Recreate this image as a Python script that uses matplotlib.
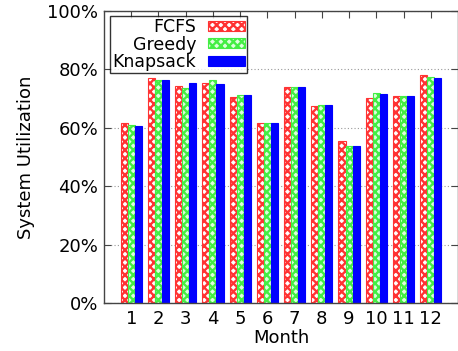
import numpy as np
import matplotlib.pyplot as plt
from matplotlib.ticker import FuncFormatter

meses = list(range(1, 13))
fcfs = [61.5, 77.0, 74.3, 75.2, 70.5, 61.5, 74.0, 67.4, 55.5, 70.1, 71.0, 77.9]
greedy = [60.8, 76.5, 73.5, 76.4, 71.1, 61.5, 74.0, 67.8, 53.8, 71.9, 70.9, 77.4]
knapsack = [60.6, 76.5, 75.2, 74.9, 71.3, 61.5, 73.8, 67.8, 53.7, 71.6, 70.8, 77.1]

plt.rcParams['hatch.linewidth'] = 1.7

fig = plt.figure(figsize=(4.58, 3.51), dpi=100)
ax = fig.add_axes([0.227, 0.137, 0.773, 0.832])

x = np.array(meses)
w = 0.26

ax.bar(x - w, fcfs, w, facecolor='white', edgecolor='#ff3333', hatch='xxxx',
       linewidth=0.8, label='FCFS', zorder=2)
ax.bar(x, greedy, w, facecolor='#ddffdd', edgecolor='#44ee44', hatch='xxxx',
       linewidth=0.8, label='Greedy', zorder=2)
ax.bar(x + w, knapsack, w, facecolor='#0000ff', edgecolor='#0000ff',
       linewidth=0.8, label='Knapsack', zorder=2)

ax.set_xlim(0, 13)
ax.set_ylim(0, 100)
ax.set_xticks(meses)
ax.set_yticks([0, 20, 40, 60, 80, 100])
ax.yaxis.set_major_formatter(FuncFormatter(lambda v, p: '{0:.0f}%'.format(v)))
ax.tick_params(direction='in', top=True, right=True, labelsize=13,
               length=5, color='#444444', pad=4)
ax.tick_params(axis='x', pad=5)
ax.grid(axis='y', linestyle=(0, (1, 2)), color='#999999', linewidth=0.8, zorder=0)

for s in ['left', 'bottom', 'top', 'right']:
    ax.spines[s].set_color('#444444')
    ax.spines[s].set_linewidth(1.0)

ax.set_xlabel('Month', fontsize=13, labelpad=1)
ax.set_ylabel('System Utilization', fontsize=13, labelpad=9)

leg = ax.legend(loc='upper left', bbox_to_anchor=(0.018, 0.983), markerfirst=False,
                fontsize=12.5, frameon=True, fancybox=False, handlelength=2.1,
                handleheight=0.5, labelspacing=-0.02, borderpad=0.12,
                handletextpad=0.7, borderaxespad=0)
leg.get_frame().set_edgecolor('black')
leg.get_frame().set_linewidth(1.0)

plt.savefig('out.png', dpi=100)
